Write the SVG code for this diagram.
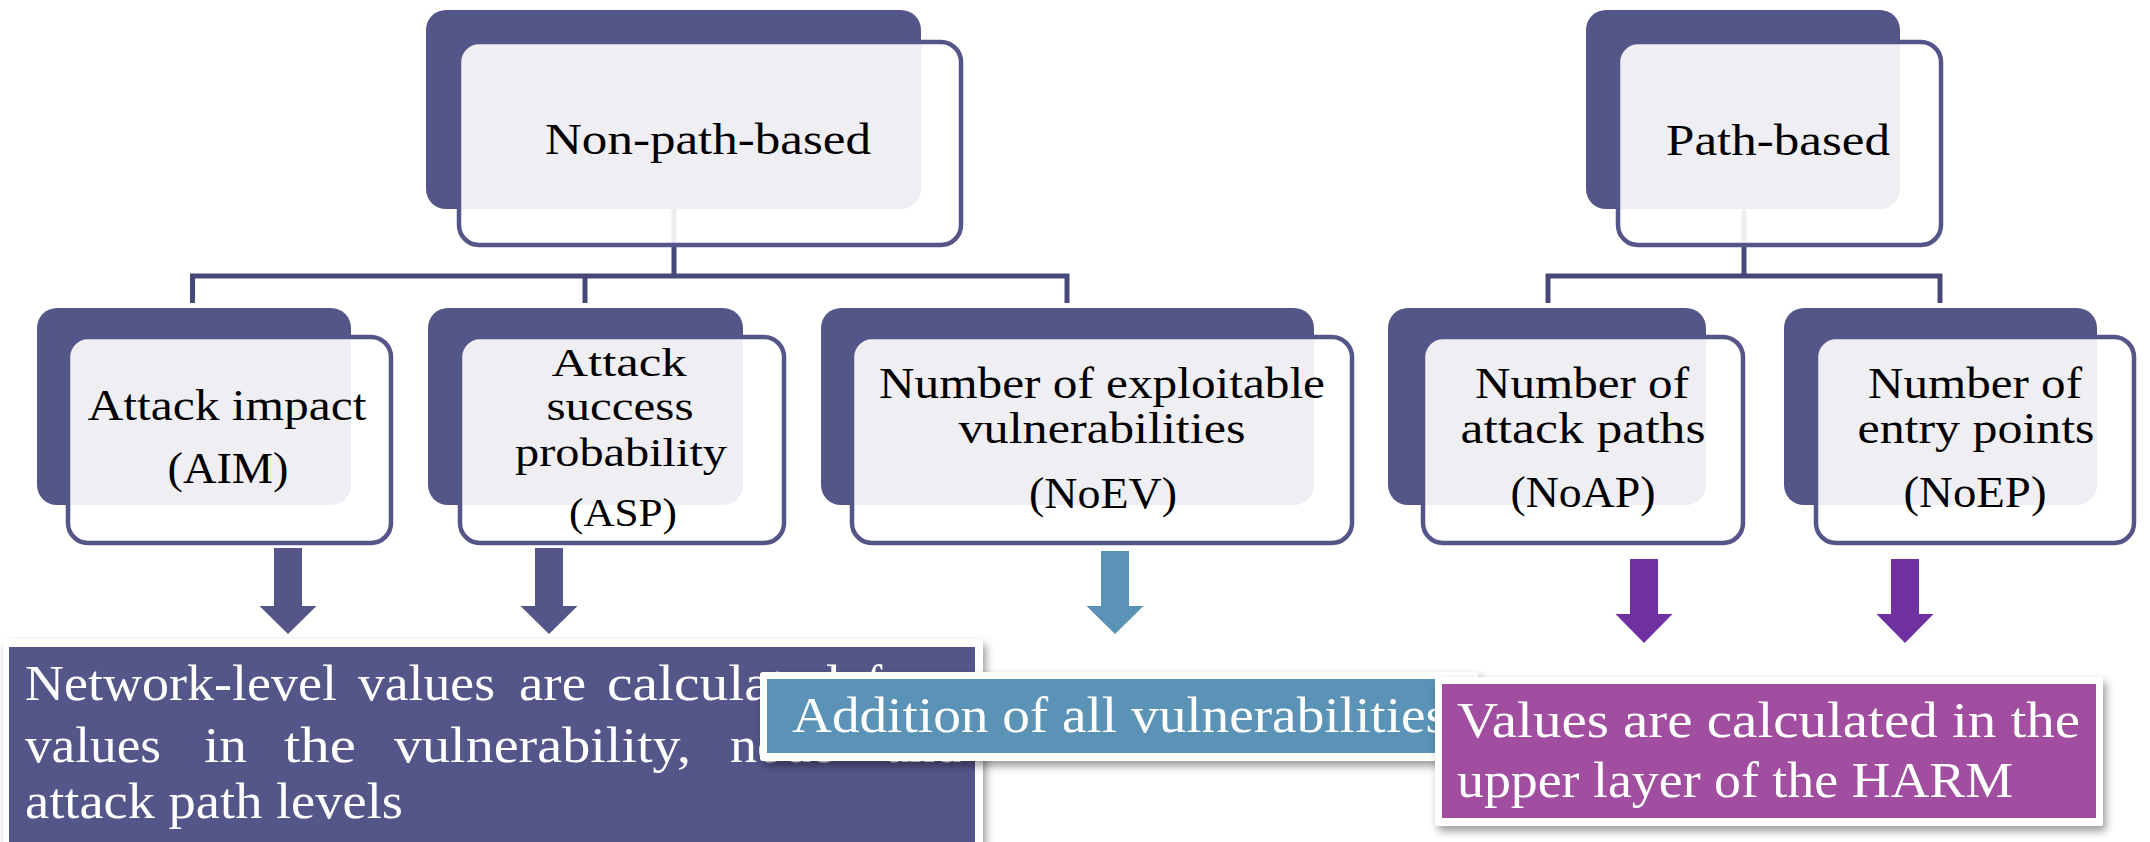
<svg xmlns="http://www.w3.org/2000/svg" width="2150" height="842" viewBox="0 0 2150 842">
<defs>
<filter id="sh" x="-5%" y="-10%" width="112%" height="130%">
<feDropShadow dx="3" dy="5" stdDeviation="4" flood-color="#000" flood-opacity="0.4"/>
</filter>
</defs>
<style>
.back{fill:#545689}
.front{fill:#ffffff;fill-opacity:0.9;stroke:#545689;stroke-width:4.5}
.t{font-family:"Liberation Serif","Times New Roman",serif;fill:#000;text-anchor:middle}
.w{font-family:"Liberation Serif","Times New Roman",serif;fill:#fff}
.conn{fill:none;stroke:#47487a;stroke-width:5}
.frame{fill:#fff;filter:url(#sh)}
</style>
<rect width="2150" height="842" fill="#fff"/>
<g id="connectors">
<path class="conn" d="M674 209 V276 M192.5 303 V276 H1067 V303 M585 276 V303"/>
<path class="conn" d="M1744 209 V276 M1548 303 V276 H1940 V303"/>
<path fill="#545689" d="M274 548 H302 V606 H316.5 L288 634 L259.5 606 H274 Z"/>
<path fill="#545689" d="M535 548 H563 V606 H577.5 L549 634 L520.5 606 H535 Z"/>
<path fill="#5b93b6" d="M1101 551 H1129 V606 H1143.5 L1115 634 L1086.5 606 H1101 Z"/>
<path fill="#7030a0" d="M1630 559 H1658 V614 H1672.5 L1644 643 L1615.5 614 H1630 Z"/>
<path fill="#7030a0" d="M1891 559 H1919 V614 H1933.5 L1905 643 L1876.5 614 H1891 Z"/>
</g>
<g id="node-nonpath">
<rect class="back" x="426" y="10" width="495" height="199" rx="20"/>
<rect class="front" x="459" y="42" width="502" height="203" rx="20"/>
<text class="t" x="708" y="154" font-size="45" textLength="326" lengthAdjust="spacingAndGlyphs">Non-path-based</text>
</g>
<g id="node-path">
<rect class="back" x="1586" y="10" width="314" height="199" rx="20"/>
<rect class="front" x="1618" y="42" width="323" height="203" rx="20"/>
<text class="t" x="1778" y="155" font-size="45" textLength="224" lengthAdjust="spacingAndGlyphs">Path-based</text>
</g>
<g id="node-aim">
<rect class="back" x="37" y="308" width="314" height="197" rx="20"/>
<rect class="front" x="68" y="337" width="323" height="206" rx="20"/>
<text class="t" x="227" y="420" font-size="44" textLength="279" lengthAdjust="spacingAndGlyphs">Attack impact</text>
<text class="t" x="228" y="483" font-size="44" textLength="121" lengthAdjust="spacingAndGlyphs">(AIM)</text>
</g>
<g id="node-asp">
<rect class="back" x="428" y="308" width="315" height="197" rx="20"/>
<rect class="front" x="460" y="337" width="324" height="206" rx="20"/>
<text class="t" x="619" y="376" font-size="41" textLength="135" lengthAdjust="spacingAndGlyphs">Attack</text>
<text class="t" x="620" y="420" font-size="41" textLength="147" lengthAdjust="spacingAndGlyphs">success</text>
<text class="t" x="621" y="466" font-size="41" textLength="212" lengthAdjust="spacingAndGlyphs">probability</text>
<text class="t" x="623" y="526" font-size="41" textLength="108" lengthAdjust="spacingAndGlyphs">(ASP)</text>
</g>
<g id="node-noev">
<rect class="back" x="821" y="308" width="493" height="197" rx="20"/>
<rect class="front" x="852" y="337" width="500" height="206" rx="20"/>
<text class="t" x="1102" y="398" font-size="44" textLength="446" lengthAdjust="spacingAndGlyphs">Number of exploitable</text>
<text class="t" x="1102" y="443" font-size="44" textLength="287" lengthAdjust="spacingAndGlyphs">vulnerabilities</text>
<text class="t" x="1103" y="508" font-size="44" textLength="148" lengthAdjust="spacingAndGlyphs">(NoEV)</text>
</g>
<g id="node-noap">
<rect class="back" x="1388" y="308" width="318" height="197" rx="20"/>
<rect class="front" x="1423" y="337" width="320" height="206" rx="20"/>
<text class="t" x="1582" y="398" font-size="44" textLength="214" lengthAdjust="spacingAndGlyphs">Number of</text>
<text class="t" x="1583" y="443" font-size="44" textLength="245" lengthAdjust="spacingAndGlyphs">attack paths</text>
<text class="t" x="1583" y="507" font-size="44" textLength="145" lengthAdjust="spacingAndGlyphs">(NoAP)</text>
</g>
<g id="node-noep">
<rect class="back" x="1784" y="308" width="313" height="197" rx="20"/>
<rect class="front" x="1816" y="337" width="318" height="206" rx="20"/>
<text class="t" x="1975" y="398" font-size="44" textLength="214" lengthAdjust="spacingAndGlyphs">Number of</text>
<text class="t" x="1976" y="443" font-size="44" textLength="237" lengthAdjust="spacingAndGlyphs">entry points</text>
<text class="t" x="1975" y="507" font-size="44" textLength="143" lengthAdjust="spacingAndGlyphs">(NoEP)</text>
</g>
<g id="box-network">
<rect class="frame" x="3.5" y="639" width="979.5" height="215" rx="3"/>
<rect x="9" y="647" width="966" height="200" fill="#545689"/>
<text class="w" x="25" y="700" font-size="50" textLength="312" lengthAdjust="spacingAndGlyphs">Network-level</text>
<text class="w" x="358" y="700" font-size="50" textLength="137" lengthAdjust="spacingAndGlyphs">values</text>
<text class="w" x="519" y="700" font-size="50" textLength="67" lengthAdjust="spacingAndGlyphs">are</text>
<text class="w" x="607" y="700" font-size="50" textLength="233" lengthAdjust="spacingAndGlyphs">calculated</text>
<text class="w" x="866" y="700" font-size="50" textLength="95" lengthAdjust="spacingAndGlyphs">from</text>
<text class="w" x="25" y="762" font-size="50" textLength="136" lengthAdjust="spacingAndGlyphs">values</text>
<text class="w" x="204" y="762" font-size="50" textLength="43" lengthAdjust="spacingAndGlyphs">in</text>
<text class="w" x="284" y="762" font-size="50" textLength="72" lengthAdjust="spacingAndGlyphs">the</text>
<text class="w" x="394" y="762" font-size="50" textLength="297" lengthAdjust="spacingAndGlyphs">vulnerability,</text>
<text class="w" x="730" y="762" font-size="50" textLength="105" lengthAdjust="spacingAndGlyphs">node</text>
<text class="w" x="886" y="762" font-size="50" textLength="75" lengthAdjust="spacingAndGlyphs">and</text>
<text class="w" x="25" y="818" font-size="50" textLength="378" lengthAdjust="spacingAndGlyphs">attack path levels</text>
</g>
<g id="box-addition">
<rect class="frame" x="760" y="672" width="718" height="89" rx="3"/>
<rect x="767" y="679" width="704" height="74" fill="#5b93b6"/>
<text class="w" x="792" y="732" font-size="51" textLength="655" lengthAdjust="spacingAndGlyphs">Addition of all vulnerabilities</text>
</g>
<g id="box-harm">
<rect class="frame" x="1435" y="677" width="668" height="149" rx="3"/>
<rect x="1442" y="684" width="654" height="134" fill="#a14ea0"/>
<text class="w" x="1457" y="737" font-size="51" textLength="623" lengthAdjust="spacingAndGlyphs">Values are calculated in the</text>
<text class="w" x="1457" y="797" font-size="51" textLength="556" lengthAdjust="spacingAndGlyphs">upper layer of the HARM</text>
</g>
</svg>
